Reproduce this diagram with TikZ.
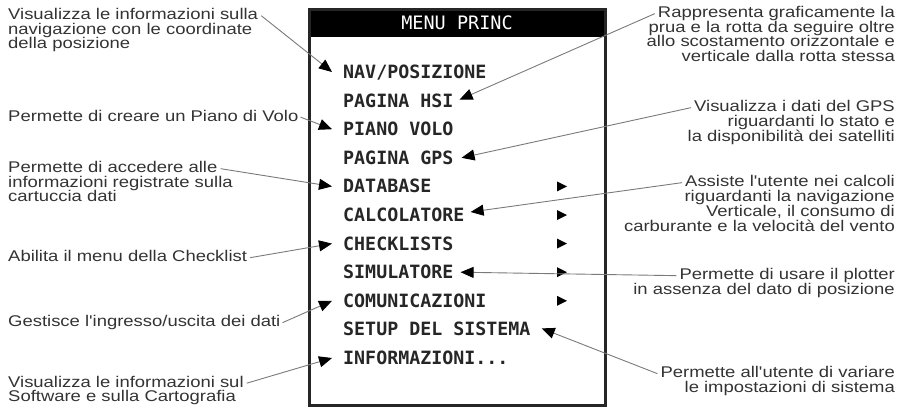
\documentclass[tikz,border=0pt]{standalone}
\usepackage{fontspec}
\usetikzlibrary{arrows.meta}
\newfontfamily\lblfont[FakeStretch=1.19]{Liberation Sans}
\newfontfamily\menufont{DejaVu Sans Mono}
\definecolor{txt}{HTML}{333333}
\definecolor{ln}{HTML}{7A7A7A}
\begin{document}
\begin{tikzpicture}[x=1pt,y=-1pt,
  lbl/.style={inner sep=0pt, text height=11pt, text depth=3.3pt, font=\lblfont\fontsize{15.5}{14.5}\selectfont, text=txt},
  lblL/.style={lbl, anchor=base west},
  lblR/.style={lbl, anchor=base east},
  item/.style={inner sep=0pt, anchor=west, text height=13pt, text depth=0pt, font=\menufont\bfseries\fontsize{18.3}{20}\selectfont, text=black!85},
  conn/.style={draw=ln, line width=0.9pt, -{Triangle[length=13pt,width=11pt,color=black]}},
]
\useasboundingbox (0,0) rectangle (907,408);

% menu box
\fill[black] (309,9) rectangle (605,37);
\draw[line width=3pt, draw=black!85] (309,9) rectangle (605,405);
\node[font=\menufont\fontsize{18.5}{20}\selectfont, text=white, inner sep=0pt] (title) at (457,23) {MENU PRINC};

% menu items
\node[item] (nav)  at (343,72)    {NAV/POSIZIONE};
\node[item] (hsi)  at (343,100.6) {PAGINA HSI};
\node[item] (pv)   at (343,129.2) {PIANO VOLO};
\node[item] (gps)  at (343,157.8) {PAGINA GPS};
\node[item] (db)   at (343,186.4) {DATABASE};
\node[item] (calc) at (343,215)   {CALCOLATORE};
\node[item] (chk)  at (343,243.6) {CHECKLISTS};
\node[item] (sim)  at (343,272.2) {SIMULATORE};
\node[item] (com)  at (343,300.8) {COMUNICAZIONI};
\node[item] (set)  at (343,329.4) {SETUP DEL SISTEMA};
\node[item] (inf)  at (343,358)   {INFORMAZIONI...};

% submenu triangles
\foreach \n in {db,calc,chk,sim,com}
  \fill[black, shift={(\n.west)}] (214,-5) -- (224,0) -- (214,5) -- cycle;

% left labels
\node[lblL] (l1a) at (8,19.5) {Visualizza le informazioni sulla};
\node[lblL] (l1b) at (8,34)   {navigazione con le coordinate};
\node[lblL] (l1c) at (8,48.5) {della posizione};
\node[lblL] (l2)  at (8,121)  {Permette di creare un Piano di Volo};
\node[lblL] (l3a) at (8,172.5){Permette di accedere alle};
\node[lblL] (l3b) at (8,187)  {informazioni registrate sulla};
\node[lblL] (l3c) at (8,201.5){cartuccia dati};
\node[lblL] (l4)  at (8,261.5){Abilita il menu della Checklist};
\node[lblL] (l5)  at (8,326.5){Gestisce l'ingresso/uscita dei dati};
\node[lblL] (l6a) at (8,387)  {Visualizza le informazioni sul};
\node[lblL] (l6b) at (8,401.5){Software e sulla Cartografia};

% right labels
\node[lblR] (r1a) at (895,17.5) {Rappresenta graficamente la};
\node[lblR] (r1b) at (895,32)   {prua e la rotta da seguire oltre};
\node[lblR] (r1c) at (895,46.5) {allo scostamento orizzontale e};
\node[lblR] (r1d) at (895,61)   {verticale dalla rotta stessa};
\node[lblR] (r2a) at (895,111.5){Visualizza i dati del GPS};
\node[lblR] (r2b) at (895,126.5){riguardanti lo stato e};
\node[lblR] (r2c) at (895,141.5){la disponibilità dei satelliti};
\node[lblR] (r3a) at (895,186.5){Assiste l'utente nei calcoli};
\node[lblR] (r3b) at (895,201.5){riguardanti la navigazione};
\node[lblR] (r3c) at (895,216.5){Verticale, il consumo di};
\node[lblR] (r3d) at (895,231.5){carburante e la velocità del vento};
\node[lblR] (r4a) at (895,279.5){Permette di usare il plotter};
\node[lblR] (r4b) at (895,294)  {in assenza del dato di posizione};
\node[lblR] (r5a) at (895,377.5){Permette all'utente di variare};
\node[lblR] (r5b) at (895,392)  {le impostazioni di sistema};

% left connectors
\draw[conn] ([xshift=3pt]l1a.east) -- ([xshift=-11pt]nav.west);
\draw[conn] ([xshift=2pt]l2.east)  -- ([xshift=-11pt]pv.west);
\draw[conn] ([xshift=3pt]l3a.east) -- ([xshift=-11pt]db.west);
\draw[conn] ([xshift=3pt]l4.east)  -- ([xshift=-11pt]chk.west);
\draw[conn] ([xshift=2pt]l5.east)  -- ([xshift=-11pt]com.west);
\draw[conn] ([xshift=3pt]l6a.east) -- ([xshift=-11pt]inf.west);

% right connectors
\draw[conn] ([xshift=-3pt]r1a.west) -- ([xshift=6pt,yshift=1pt]hsi.east);
\draw[conn] ([xshift=-3pt]r2a.west) -- ([xshift=8pt]gps.east);
\draw[conn] ([xshift=-3pt]r3a.west) -- ([xshift=6pt,yshift=3pt]calc.east);
\draw[conn] ([xshift=-3pt]r4a.west) -- ([xshift=7pt]sim.east);
\draw[conn] ([xshift=-3pt]r5a.west) -- ([xshift=11pt,yshift=1pt]set.east);
\end{tikzpicture}
\end{document}
